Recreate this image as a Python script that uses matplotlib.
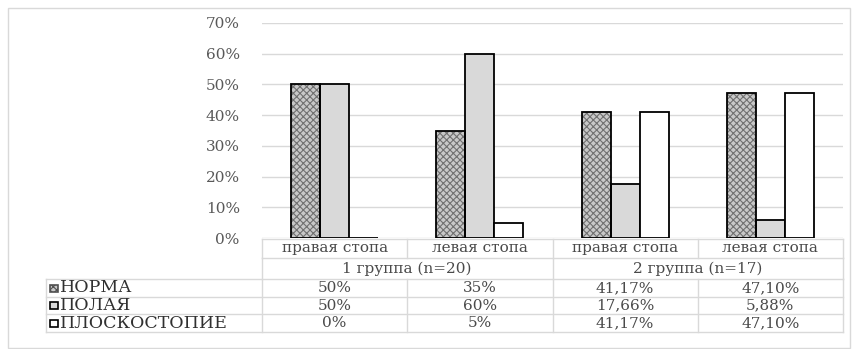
import numpy as np
import matplotlib.pyplot as plt
from matplotlib.lines import Line2D
from matplotlib.patches import Rectangle

categories = ['правая стопа', 'левая стопа', 'правая стопа', 'левая стопа']
groups = ['1 группа (n=20)', '2 группа (n=17)']
series = ['НОРМА', 'ПОЛАЯ', 'ПЛОСКОСТОПИЕ']
norma = [50, 35, 41.17, 47.10]
polaya = [50, 60, 17.66, 5.88]
plosko = [0, 5, 41.17, 47.10]
yticks = [0, 10, 20, 30, 40, 50, 60, 70]

plt.rcParams['font.family'] = ['DejaVu Serif']
W, H = 858, 349
fig = plt.figure(figsize=(W / 100, H / 100), dpi=100)

def fx(x):
    return x / W

def fy(y):
    return 1 - y / H

txt = '#4a4a4a'
grid = '#d9d9d9'

# plot area in pixels
x0, x1 = 262, 843
ytop, ybot = 23, 238
ax = fig.add_axes([fx(x0), fy(ybot), fx(x1) - fx(x0), fy(ytop) - fy(ybot)])

x = np.arange(len(categories))
w = 0.2
vals = [norma, polaya, plosko]
# hatched НОРМА: pattern layer then black outline
plt.rcParams['hatch.linewidth'] = 0.8
ax.bar(x - w, norma, w, color='#c8c8c8', edgecolor='#707070', hatch='xxxxx', linewidth=0, zorder=3)
ax.bar(x - w, norma, w, fill=False, edgecolor='black', linewidth=1.3, zorder=4)
ax.bar(x, polaya, w, color='#d9d9d9', edgecolor='black', linewidth=1.3, zorder=3)
ax.bar(x + w, plosko, w, color='white', edgecolor='black', linewidth=1.3, zorder=3)

ax.set_xlim(-0.5, len(categories) - 0.5)
ax.set_ylim(0, 70)
ax.set_yticks(yticks)
ax.set_yticklabels([f'{t}%' for t in yticks], fontsize=11, color='#595959')
ax.tick_params(axis='y', length=0, pad=16)
ax.set_xticks([])
ax.grid(axis='y', color=grid, linewidth=1)
ax.set_axisbelow(True)
for s in ax.spines.values():
    s.set_visible(False)

# chart frame
fig.add_artist(Rectangle((fx(8), fy(348)), fx(850) - fx(8), fy(8) - fy(348),
                         fill=False, edgecolor=grid, linewidth=1, transform=fig.transFigure))

def hline(y, xa, xb):
    fig.add_artist(Line2D([fx(xa), fx(xb)], [fy(y), fy(y)], color=grid, linewidth=1))

def vline(xp, ya, yb):
    fig.add_artist(Line2D([fx(xp), fx(xp)], [fy(ya), fy(yb)], color=grid, linewidth=1))

# table geometry
col_w = (x1 - x0) / len(categories)
col_edges = [x0 + i * col_w for i in range(len(categories) + 1)]
lab_left = 46
r_top, r_cat, r_grp = 239, 258, 279
row_lines = [279, 297, 314, 332]
hline(r_top, x0, x1)
hline(r_cat, x0, x1)
for y in row_lines:
    hline(y, lab_left, x1)
for i, xe in enumerate(col_edges):
    vline(xe, r_top, r_cat)
    if i in (0, 2, 4):
        vline(xe, r_cat, r_grp)
    vline(xe, r_grp, row_lines[-1])
vline(lab_left, r_grp, row_lines[-1])

fs = 11
for i, c in enumerate(categories):
    fig.text(fx(col_edges[i] + col_w / 2), fy(248), c, ha='center', va='center', fontsize=fs, color=txt)
for g, name in enumerate(groups):
    fig.text(fx(col_edges[2 * g + 1]), fy(268.5), name, ha='center', va='center', fontsize=fs, color=txt)

def fmt(v):
    s = '%d' % v if float(v).is_integer() else ('%.2f' % v).replace('.', ',')
    return s + '%'

key_styles = [dict(facecolor='#c8c8c8', hatch='xxxxx', edgecolor='#505050'),
              dict(facecolor='#d9d9d9', edgecolor='black'),
              dict(facecolor='white', edgecolor='black')]
for r, (name, v) in enumerate(zip(series, vals)):
    yc = (row_lines[r] + row_lines[r + 1]) / 2
    fig.add_artist(Rectangle((fx(50), fy(yc + 3.5)), fx(8), fy(0) - fy(7),
                             linewidth=1.2, transform=fig.transFigure, **key_styles[r]))
    fig.text(fx(60), fy(yc), name, ha='left', va='center', fontsize=12.5, color='#303030')
    for i in range(len(categories)):
        fig.text(fx(col_edges[i] + col_w / 2), fy(yc), fmt(v[i]), ha='center', va='center',
                 fontsize=fs, color=txt)

fig.savefig('out.png', dpi=100)
